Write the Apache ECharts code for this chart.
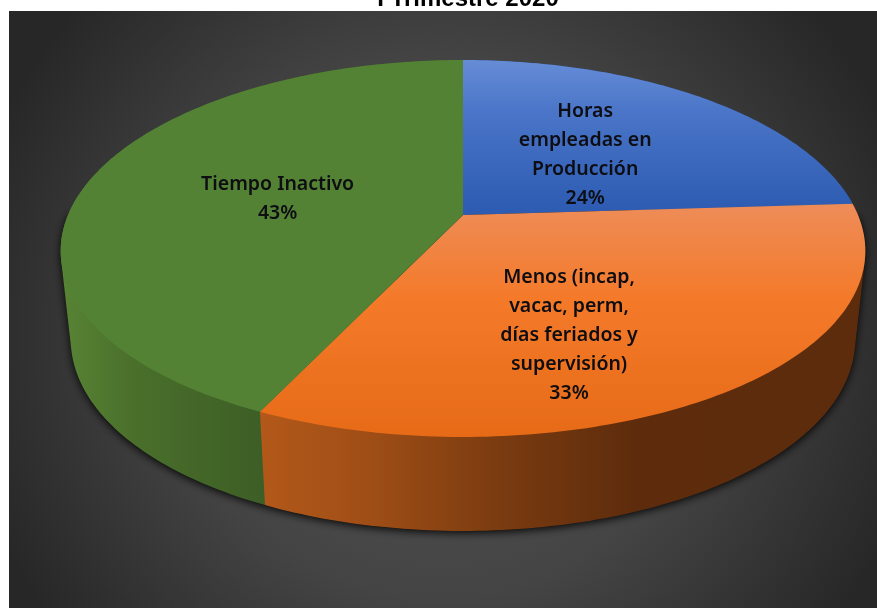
<!DOCTYPE html>
<html>
<head>
<meta charset="utf-8">
<style>
html,body{margin:0;padding:0;background:#fff;}
#c{width:877px;height:608px;filter:blur(0.45px);}
</style>
<script src="https://cdn.jsdelivr.net/npm/echarts@6/dist/echarts.min.js"></script>
</head>
<body>
<div id="c"></div>
<script>
const titleText = 'I Trimestre 2020';
const categories = ['Horas\nempleadas en\nProducción', 'Menos (incap,\nvacac, perm,\ndías feriados y\nsupervisión)', 'Tiempo Inactivo'];
const values = [24, 33, 43];

// Perspective of the disc (layout, not data)
const view = {cx: 463, a: -144.3, b: 215, c: 0.1777, cx2: 0.19, k: 395, lowerShrink: 0.975, depthBase: 87, depthFront: 7};
const labelPlace = [{r: 0.482, turn: 0, dy: 0.5}, {r: 0.627, turn: 11.8, dy: 2}, {r: 0.488, turn: -1, dy: 2}];
const wallStack = [1, 3, 2];
const G = echarts.graphic;
const vertical = (y0, y1, stops) => new G.LinearGradient(0, y0, 0, y1, stops, true);
const horizontal = (x0, x1, stops) => new G.LinearGradient(x0, 0, x1, 0, stops, true);
const topFill = [
  vertical(60, 208, [{offset: 0, color: '#668cd6'}, {offset: .35, color: '#4a75c8'}, {offset: 1, color: '#2d5cb2'}]),
  vertical(205, 437, [{offset: 0, color: '#ee8c58'}, {offset: .4, color: '#f47a2a'}, {offset: 1, color: '#e76b17'}]),
  '#548235'
];
const wallFill = [
  '#2d4f8f',
  horizontal(257, 865, [{offset: 0, color: '#b3591a'}, {offset: .18, color: '#a04e16'}, {offset: .4, color: '#7a3b10'}, {offset: .62, color: '#5e2c0c'}, {offset: 1, color: '#5c2c0c'}]),
  horizontal(65, 262, [{offset: 0, color: '#578334'}, {offset: .35, color: '#4a6f2b'}, {offset: 1, color: '#3d5e26'}])
];
const total = values.reduce((s, v) => s + v, 0);

function upper(deg, r) {
  const t = deg * Math.PI / 180, u = r * Math.sin(t), v = r * Math.cos(t);
  return [view.cx + view.k * u / (1 + view.cx2 * v), (view.a * v + view.b) / (1 + view.c * v)];
}
function lower(deg) {
  const t = deg * Math.PI / 180, u = Math.sin(t), v = Math.cos(t);
  return [view.cx + view.lowerShrink * view.k * u / (1 + view.cx2 * v),
          (view.a * v + view.b) / (1 + view.c * v) + view.depthBase - view.depthFront * v];
}
function arc(fn, from, to) {
  const n = Math.max(2, Math.ceil(Math.abs(to - from))), pts = [];
  for (let i = 0; i <= n; i++) pts.push(fn(from + (to - from) * i / n));
  return pts;
}
function hull(points) {
  const p = points.slice().sort((a, b) => a[0] - b[0] || a[1] - b[1]);
  const cross = (o, a, b) => (a[0] - o[0]) * (b[1] - o[1]) - (a[1] - o[1]) * (b[0] - o[0]);
  const build = list => {
    const h = [];
    for (const q of list) {
      while (h.length >= 2 && cross(h[h.length - 2], h[h.length - 1], q) <= 0) h.pop();
      h.push(q);
    }
    h.pop();
    return h;
  };
  return build(p).concat(build(p.slice().reverse()));
}
function sliceAngles(i) {
  let before = 0;
  for (let j = 0; j < i; j++) before += values[j];
  return [before / total * 360, (before + values[i]) / total * 360];
}
function renderWall(params, api) {
  const i = params.dataIndex, [s, e] = sliceAngles(i), children = [];
  if (i === 0) {
    children.push({
      type: 'polygon', z2: 0,
      shape: {points: hull(arc(lower, 0, 360).concat(arc(d => upper(d, 1), 90, 270)))},
      style: {fill: '#111', shadowBlur: 9, shadowColor: 'rgba(0,0,0,0.9)', shadowOffsetY: 2}
    });
  }
  children.push({
    type: 'polygon', z2: wallStack[i],
    shape: {points: hull(arc(d => upper(d, 1), s, e).concat(arc(lower, s, e)))},
    style: {fill: wallFill[i]}
  });
  return {type: 'group', children};
}
function renderTop(params, api) {
  const i = params.dataIndex, [s, e] = sliceAngles(i);
  const pts = [upper(0, 0)].concat(arc(d => upper(d, 1), s, e));
  return {type: 'polygon', shape: {points: pts}, style: {fill: topFill[i]}};
}
function renderLabel(params, api) {
  const i = params.dataIndex, [s, e] = sliceAngles(i), place = labelPlace[i];
  const p = upper((s + e) / 2 + place.turn, place.r);
  return {
    type: 'text', z2: 10,
    style: {
      x: p[0], y: p[1] + place.dy, align: 'center', verticalAlign: 'middle',
      text: categories[i] + '\n' + api.value(0) + '%',
      font: '600 19.5px "Noto Sans"', lineHeight: 29, fill: '#0d0d12'
    }
  };
}
const seriesData = values.map((v, i) => ({value: [v], name: categories[i]}));
const chart = echarts.init(document.getElementById('c'), null, {renderer: 'canvas'});
chart.setOption({
  animation: false,
  backgroundColor: '#fff',
  title: {
    text: titleText, left: 463, top: -18, textAlign: 'center',
    textStyle: {fontFamily: '"Liberation Sans"', fontWeight: 'bold', fontSize: 24, color: '#000'}
  },
  graphic: [{
    type: 'rect', z: -10, silent: true,
    shape: {x: 9, y: 11, width: 868, height: 597},
    style: {fill: new G.RadialGradient(443, 330, 490, [{offset: 0, color: '#565656'}, {offset: .55, color: '#444'}, {offset: 1, color: '#272727'}], true)}
  }],
  series: [
    {type: 'custom', coordinateSystem: 'none', renderItem: renderWall, data: seriesData, z: 1, silent: true},
    {type: 'custom', coordinateSystem: 'none', renderItem: renderTop, data: seriesData, z: 2, silent: true},
    {type: 'custom', coordinateSystem: 'none', renderItem: renderLabel, data: seriesData, z: 3, silent: true}
  ]
});
</script>
</body>
</html>
